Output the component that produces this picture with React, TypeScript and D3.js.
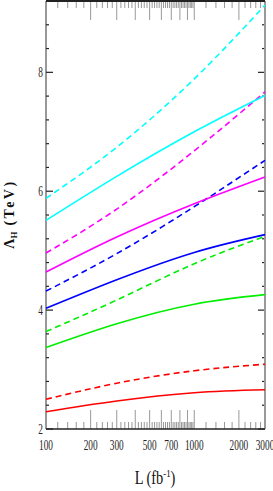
import React, { useEffect, useRef } from "react";
import * as d3 from "d3";

// luminosity points (fb^-1) where the curves were read
const lumi = [100, 300, 1000, 3000];

// Lambda_H (TeV) for each curve
const redSolid = [2.29, 2.47, 2.61, 2.66];
const redDashed = [2.5, 2.77, 2.98, 3.09];
const greenSolid = [3.37, 3.77, 4.1, 4.26];
const greenDashed = [3.64, 4.17, 4.78, 5.24];
const blueSolid = [4.03, 4.51, 4.97, 5.27];
const blueDashed = [4.32, 4.95, 5.74, 6.52];
const magentaSolid = [4.64, 5.23, 5.79, 6.24];
const magentaDashed = [4.96, 5.7, 6.68, 7.67];
const cyanSolid = [5.51, 6.25, 7.0, 7.61];
const cyanDashed = [5.88, 6.74, 7.89, 9.13];

const xTickLabels = [100, 200, 300, 500, 700, 1000, 2000, 3000];
const yTickLabels = [2, 4, 6, 8];

const curves = [
   { values: redSolid, color: "#ff0000", dashed: false },
   { values: redDashed, color: "#ff0000", dashed: true },
   { values: greenSolid, color: "#00ee00", dashed: false },
   { values: greenDashed, color: "#00ee00", dashed: true },
   { values: blueSolid, color: "#0000ff", dashed: false },
   { values: blueDashed, color: "#0000ff", dashed: true },
   { values: magentaSolid, color: "#ff00ff", dashed: false },
   { values: magentaDashed, color: "#ff00ff", dashed: true },
   { values: cyanSolid, color: "#00ffff", dashed: false },
   { values: cyanDashed, color: "#00ffff", dashed: true },
];

const W = 273;
const H = 491;

export default function App() {
   const ref = useRef<SVGSVGElement>(null);

   useEffect(() => {
      const svg = d3.select(ref.current);
      svg.selectAll("*").remove();

      const left = 46, right = 265, top = 1, bottom = 429;

      const x = d3.scaleLog().domain([100, 3000]).range([left, right]);
      const y = d3.scaleLinear().domain([2, 9.2]).range([bottom, top]);

      const g = svg.append("g");

      // x ticks (top and bottom), every 20 below 1000, every 200 above
      const minor = d3.range(120, 1000, 20).concat(d3.range(1200, 3000, 200));
      const isLong = (v: number) =>
         (v < 1000 && v % 100 === 0) || v === 1000 || v === 2000;
      minor.concat([1000]).forEach((v) => {
         const len = isLong(v) ? 19 : 7;
         g.append("line")
            .attr("x1", x(v)).attr("x2", x(v))
            .attr("y1", bottom).attr("y2", bottom - len)
            .attr("stroke", "#999").attr("stroke-width", 1);
         g.append("line")
            .attr("x1", x(v)).attr("x2", x(v))
            .attr("y1", top).attr("y2", top + len)
            .attr("stroke", "#999").attr("stroke-width", 1);
      });

      // y ticks on both sides
      d3.range(2, 9.21, 0.4).forEach((v) => {
         const major = Math.abs(v - Math.round(v)) < 1e-6 && Math.round(v) % 2 === 0;
         const len = major ? 7 : 3;
         g.append("line")
            .attr("x1", left).attr("x2", left + len)
            .attr("y1", y(v)).attr("y2", y(v))
            .attr("stroke", "#222").attr("stroke-width", 1.2);
         g.append("line")
            .attr("x1", right).attr("x2", right - len)
            .attr("y1", y(v)).attr("y2", y(v))
            .attr("stroke", "#222").attr("stroke-width", 1.2);
      });

      // frame
      g.append("line").attr("x1", left).attr("x2", left).attr("y1", top).attr("y2", bottom)
         .attr("stroke", "#333").attr("stroke-width", 1);
      g.append("line").attr("x1", right).attr("x2", right).attr("y1", top).attr("y2", bottom)
         .attr("stroke", "#999").attr("stroke-width", 2);
      g.append("line").attr("x1", left).attr("x2", right).attr("y1", top).attr("y2", top)
         .attr("stroke", "#222").attr("stroke-width", 2);
      g.append("line").attr("x1", left).attr("x2", right).attr("y1", bottom).attr("y2", bottom)
         .attr("stroke", "#222").attr("stroke-width", 1.5);

      // curves
      const line = d3
         .line<number>()
         .x((d, i) => x(lumi[i]))
         .y((d) => y(d))
         .curve(d3.curveNatural);

      curves.forEach((c) => {
         g.append("path")
            .datum(c.values)
            .attr("fill", "none")
            .attr("stroke", c.color)
            .attr("stroke-width", 1.6)
            .attr("stroke-dasharray", c.dashed ? "6,4" : null)
            .attr("d", line);
      });

      // tick labels
      const font = "'Liberation Serif', serif";
      xTickLabels.forEach((v) => {
         g.append("text")
            .attr("transform", `translate(${x(v)},450) scale(0.62,1)`)
            .attr("text-anchor", "middle")
            .attr("font-family", font)
            .attr("font-size", 15)
            .attr("fill", "#222")
            .text(v);
      });
      yTickLabels.forEach((v) => {
         g.append("text")
            .attr("transform", `translate(43,${y(v) + 5}) scale(0.62,1)`)
            .attr("text-anchor", "end")
            .attr("font-family", font)
            .attr("font-size", 15)
            .attr("fill", "#222")
            .text(v);
      });

      // axis titles
      const xt = g.append("text")
         .attr("transform", "translate(155,484) scale(0.8,1)")
         .attr("text-anchor", "middle")
         .attr("font-family", font)
         .attr("font-size", 18)
         .attr("fill", "#111");
      xt.append("tspan").text("L (fb");
      xt.append("tspan").attr("dy", -7).attr("font-size", 11).text("-1");
      xt.append("tspan").attr("dy", 7).text(")");

      const yt = g.append("text")
         .attr("transform", "translate(14,214) rotate(-90)")
         .attr("text-anchor", "middle")
         .attr("font-family", font)
         .attr("font-weight", "bold")
         .attr("font-size", 14)
         .attr("fill", "#111");
      yt.append("tspan").text("Λ");
      yt.append("tspan").attr("dy", 3).attr("font-size", 9).text("H");
      yt.append("tspan").attr("dy", -3).attr("letter-spacing", 2.5).text("  (TeV)");
   }, []);

   return (
      <svg
         ref={ref}
         width={W}
         height={H}
         style={{ position: "absolute", left: 0, top: 0, background: "#fff" }}
      ></svg>
   );
}
